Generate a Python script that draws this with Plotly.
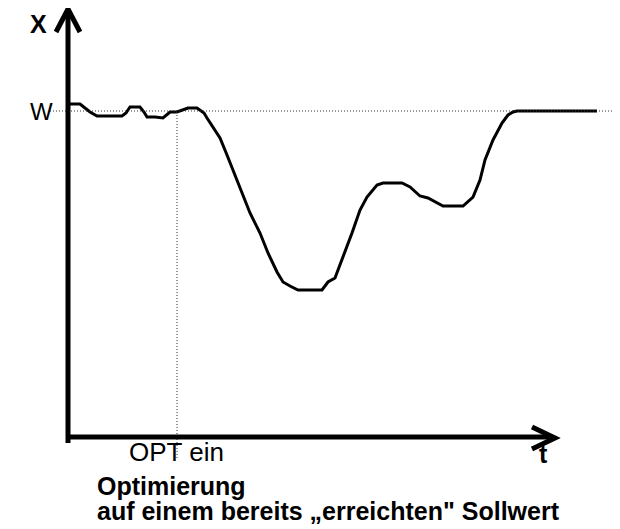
import plotly.graph_objects as go

# Process variable X over time t (t=0 at the X axis, X=0 at the t axis)
t_vals = [2, 12, 17, 22, 29, 54, 58, 62, 72, 76, 79, 87, 95, 98, 102, 109, 114, 120, 129,
          132, 136, 139, 145, 152, 159, 165, 174, 182, 192, 200, 209, 215, 222, 230, 254,
          260, 267, 275, 284, 292, 299, 309, 315, 334, 342, 352, 360, 375, 395, 405, 412,
          417, 425, 434, 440, 445, 449, 529]
x_vals = [333, 333, 329, 325, 321, 321, 324, 330, 330, 325, 320, 320, 319, 322, 325, 325,
          327, 329, 329, 327, 324, 319, 310, 299, 282, 267, 244, 224, 204, 184, 165, 155,
          151, 147, 147, 155, 159, 180, 204, 227, 240, 252, 254, 254, 250, 241, 239, 231,
          231, 240, 257, 277, 297, 314, 322, 325, 326, 326]
setpoint_W = 326
t_opt_on = 109
labels = {"x": "X", "t": "t", "w": "W", "opt": "OPT ein",
          "title1": "Optimierung",
          "title2": "auf einem bereits \u201eerreichten\" Sollwert"}

FONT = "Liberation Sans, Arial, sans-serif"

fig = go.Figure()
fig.add_trace(go.Scatter(x=t_vals, y=x_vals, mode="lines",
                         line=dict(color="black", width=3), hoverinfo="skip"))

shapes = [
    # setpoint dotted line
    dict(type="line", x0=-18, x1=547, y0=setpoint_W, y1=setpoint_W,
         line=dict(color="#333333", width=1, dash="1px,2px")),
    # OPT on dotted line
    dict(type="line", x0=t_opt_on, x1=t_opt_on, y0=setpoint_W - 1, y1=-21,
         line=dict(color="#333333", width=1, dash="1px,2px")),
    # y axis shaft
    dict(type="line", x0=0, x1=0, y0=-6, y1=426, line=dict(color="black", width=5)),
    # x axis shaft
    dict(type="line", x0=-2, x1=484, y0=0, y1=0, line=dict(color="black", width=5)),
    # y arrowhead
    dict(type="path", path="M -12,405 L 0,428 L 12,405",
         line=dict(color="black", width=5)),
    # x arrowhead
    dict(type="path", path="M 464,10 L 487,-1 L 464,-12",
         line=dict(color="black", width=5)),
]

ann = [
    dict(x=-29.5, y=413, text="<b>" + labels["x"] + "</b>", font=dict(size=25)),
    dict(x=-27, y=326, text=labels["w"], font=dict(size=24)),
    dict(x=108.5, y=-15, text=labels["opt"], font=dict(size=26)),
    dict(x=475, y=-17, text="<b>" + labels["t"] + "</b>", font=dict(size=25)),
    dict(x=27, y=-49, text="<b>" + labels["title1"] + "</b>", font=dict(size=25), xanchor="left"),
    dict(x=27, y=-74, text="<b>" + labels["title2"] + "</b>", font=dict(size=25), xanchor="left"),
]
for a in ann:
    a.setdefault("xanchor", "center")
    a.update(xref="x", yref="y", showarrow=False, yanchor="middle")
    a["font"].update(color="black", family=FONT)

fig.update_layout(
    width=620, height=529,
    margin=dict(l=0, r=0, t=0, b=0),
    paper_bgcolor="white", plot_bgcolor="white",
    showlegend=False,
    shapes=shapes, annotations=ann,
    xaxis=dict(range=[-60, 560], visible=False, fixedrange=True),
    yaxis=dict(range=[-100, 429], visible=False, fixedrange=True),
    font=dict(family=FONT),
)
fig.write_html("out.html")
